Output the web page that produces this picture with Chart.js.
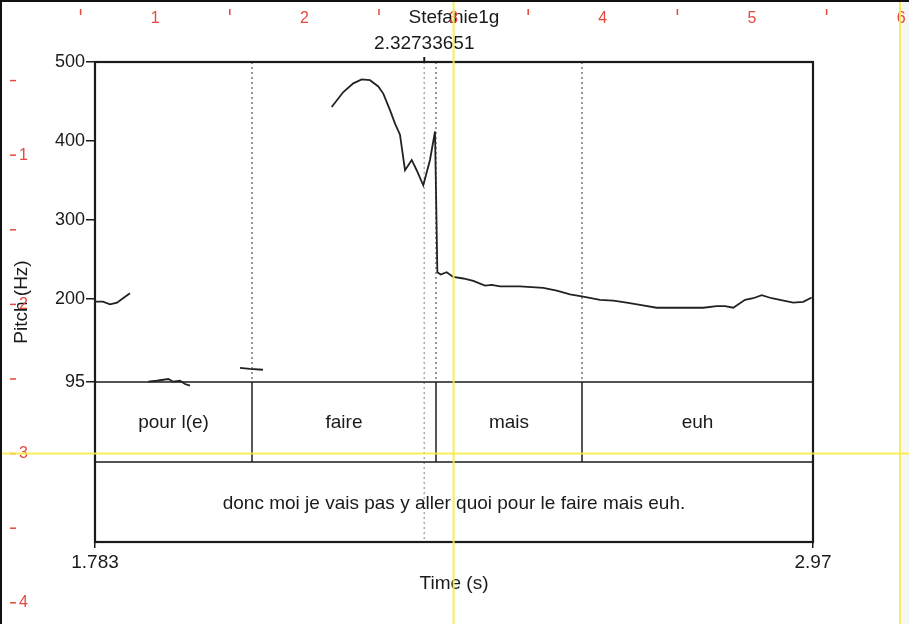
<!DOCTYPE html>
<html>
<head>
<meta charset="utf-8">
<script src="https://cdn.jsdelivr.net/npm/chart.js@4.4.1/dist/chart.umd.min.js"></script>
<style>
  body { margin: 0; background: #fff; }
  canvas { display: block; }
</style>
</head>
<body>
<canvas id="pitchChart" width="909" height="624"></canvas>
<script>
// pitch track (s, Hz); null = unvoiced gap
const times = [
  1.783, 1.7962, 1.8078, 1.8194, 1.8293, 1.8409, 1.855,
  1.8711, 1.8850, 1.9042, 1.9124, 1.9235, 1.9318, 1.9400, 1.98,
  2.0227, 2.0392, 2.0607, 2.12,
  2.1743, 2.1935, 2.2100, 2.2239, 2.2376, 2.2513, 2.2596, 2.2707, 2.2790, 2.2872,
  2.2955, 2.3066, 2.3148, 2.3257, 2.3368, 2.3451, 2.3490, 2.3545, 2.3644, 2.3753,
  2.3919, 2.4084, 2.4277, 2.4388, 2.4525, 2.4856, 2.5241, 2.5463, 2.5683, 2.5902,
  2.6178, 2.6398, 2.6620, 2.6840, 2.7116, 2.7501, 2.7886, 2.8108, 2.8245, 2.8382,
  2.8576, 2.8713, 2.8852, 2.9017, 2.9154, 2.9374, 2.9539, 2.9678
];
const pitch = [
  196.6, 196.6, 193.3, 195.4, 200.9, 207.3, null,
  95.4, 96.6, 98.8, 95.4, 96.6, 92.5, 90.3, null,
  113, 111.5, 110.5, null,
  443, 462, 473, 478, 477, 469, 460, 439, 422, 408,
  363, 376, 363, 344, 376, 412, 234, 231, 234, 228,
  226, 223, 217, 218, 216, 216, 214, 210.5, 206, 203,
  199, 198, 195.5, 192.5, 189, 189, 189, 191, 191, 189,
  199, 201, 205, 201, 199, 195.5, 196.5, 202
];
const yTicks = [95, 200, 300, 400, 500];
const xTicks = [1.783, 2.97];
const boundaries = [2.0426, 2.3467, 2.5881];
const words = ["pour l(e)", "faire", "mais", "euh"];
const sentence = "donc moi je vais pas y aller quoi pour le faire mais euh.";
const cursorTime = 2.32733651;
const chartTitle = "Stefanie1g";

const tMin = 1.783, tMax = 2.97;
const fMin = 95, fMax = 500;
// each text tier is as tall as 1/4 of the pitch range
const tierHz = (fMax - fMin) / 4;
const yMin = fMin - 2 * tierHz;

const font = "Liberation Sans, Arial, Helvetica, sans-serif";
const ink = "#1a1a1a";

const praatPlugin = {
  id: "praat",
  beforeDraw(chart) {
    const c = chart.ctx;
    c.save();
    c.fillStyle = "#fff";
    c.fillRect(0, 0, chart.width, chart.height);
    c.fillStyle = "#f6f6f6";
    c.fillRect(902, 0, chart.width - 902, chart.height);
    c.restore();
  },
  beforeDatasetsDraw(chart) {
    const c = chart.ctx;
    const xs = chart.scales.x, ys = chart.scales.y;
    const a = chart.chartArea;
    const yT1 = ys.getPixelForValue(fMin);
    const yT2 = ys.getPixelForValue(fMin - tierHz);
    c.save();
    // cursor (dotted, full height)
    const xc = xs.getPixelForValue(cursorTime);
    c.strokeStyle = "#aaa";
    c.lineWidth = 1.5;
    c.setLineDash([2, 3]);
    c.beginPath(); c.moveTo(xc, a.top); c.lineTo(xc, a.bottom); c.stroke();
    // boundary lines through the pitch area
    c.strokeStyle = "#777";
    boundaries.forEach(b => {
      const x = xs.getPixelForValue(b);
      c.beginPath(); c.moveTo(x, a.top); c.lineTo(x, yT1); c.stroke();
    });
    c.setLineDash([]);
    // boundaries in the word tier
    c.strokeStyle = "#555";
    c.lineWidth = 2;
    boundaries.forEach(b => {
      const x = xs.getPixelForValue(b);
      c.beginPath(); c.moveTo(x, yT1); c.lineTo(x, yT2); c.stroke();
    });
    // tier lines
    c.strokeStyle = ink;
    c.lineWidth = 1.3;
    [yT1, yT2].forEach(y => {
      c.beginPath(); c.moveTo(a.left, y); c.lineTo(a.right, y); c.stroke();
    });
    // labels
    c.fillStyle = ink;
    c.font = "19px " + font;
    c.textAlign = "center";
    c.textBaseline = "middle";
    const edges = [tMin, ...boundaries, tMax];
    words.forEach((w, i) => {
      const x = (xs.getPixelForValue(edges[i]) + xs.getPixelForValue(edges[i + 1])) / 2;
      c.fillText(w, x, (yT1 + yT2) / 2 + 1);
    });
    c.fillText(sentence, (a.left + a.right) / 2, (yT2 + a.bottom) / 2 + 2);
    // frame
    c.strokeStyle = ink;
    c.lineWidth = 2.2;
    c.strokeRect(a.left, a.top, a.right - a.left, a.bottom - a.top);
    // cursor tick + labels
    c.lineWidth = 2;
    c.beginPath(); c.moveTo(xc, a.top - 5); c.lineTo(xc, a.top); c.stroke();
    c.fillText(cursorTime.toFixed(8), xc, a.top - 18);
    c.fillText(chartTitle, (a.left + a.right) / 2, 18);
    c.restore();
  },
  afterDraw(chart) {
    const c = chart.ctx;
    c.save();
    // picture window rulers
    const inch = 149.2, org = 6;
    c.strokeStyle = "#e5483f";
    c.fillStyle = "#e5483f";
    c.lineWidth = 1.5;
    c.font = "16px " + font;
    c.textBaseline = "middle";
    c.textAlign = "center";
    for (let i = 1; i <= 6; i++) {
      c.fillText(String(i), org + i * inch, 19);
      const hx = org + (i - 0.5) * inch;
      c.beginPath(); c.moveTo(hx, 9); c.lineTo(hx, 15); c.stroke();
    }
    c.textAlign = "left";
    for (let i = 1; i <= 4; i++) {
      const y = org + i * inch;
      c.beginPath(); c.moveTo(10, y); c.lineTo(16, y); c.stroke();
      c.fillText(String(i), 19, y);
      const hy = org + (i - 0.5) * inch;
      c.beginPath(); c.moveTo(10, hy); c.lineTo(16, hy); c.stroke();
    }
    // yellow guides
    c.strokeStyle = "rgba(245, 236, 70, 0.9)";
    c.lineWidth = 2;
    [org + 3 * inch, 900].forEach(x => {
      c.beginPath(); c.moveTo(x, 2); c.lineTo(x, chart.height); c.stroke();
    });
    c.beginPath(); c.moveTo(2, org + 3 * inch); c.lineTo(chart.width, org + 3 * inch); c.stroke();
    // window border
    c.strokeStyle = "#111";
    c.lineWidth = 2;
    c.beginPath(); c.moveTo(0, 1); c.lineTo(chart.width, 1); c.stroke();
    c.beginPath(); c.moveTo(1, 0); c.lineTo(1, chart.height); c.stroke();
    c.restore();
  }
};

const ctx = document.getElementById("pitchChart").getContext("2d");
const chart = new Chart(ctx, {
  type: "line",
  data: {
    datasets: [{
      data: times.map((t, i) => ({ x: t, y: pitch[i] })),
      borderColor: "#222",
      borderWidth: 1.8,
      pointRadius: 0,
      tension: 0,
      spanGaps: false
    }]
  },
  options: {
    responsive: false,
    animation: false,
    layout: { padding: { top: 62, right: 96, left: 0, bottom: 0 } },
    plugins: { legend: { display: false }, tooltip: { enabled: false } },
    scales: {
      x: {
        type: "linear",
        min: tMin,
        max: tMax,
        afterBuildTicks: s => { s.ticks = xTicks.map(v => ({ value: v })); },
        afterFit: s => { s.height = 82; },
        grid: { drawOnChartArea: false, tickLength: 6, color: ink, lineWidth: 1.5 },
        border: { display: false },
        ticks: {
          autoSkip: false, maxRotation: 0, padding: 3,
          color: ink, font: { family: font, size: 19 },
          callback: v => String(v)
        },
        title: {
          display: true, text: "Time (s)", color: ink,
          font: { family: font, size: 19 }, padding: { top: 0, bottom: 29 }
        }
      },
      y: {
        type: "linear",
        min: yMin,
        max: fMax,
        afterBuildTicks: s => { s.ticks = yTicks.map(v => ({ value: v })); },
        afterFit: s => { s.width = 95; },
        grid: { drawOnChartArea: false, tickLength: 9, color: ink, lineWidth: 1.5 },
        border: { display: false },
        ticks: {
          padding: 1, color: ink, font: { family: font, size: 18 },
          callback: v => String(v)
        },
        title: {
          display: true, text: "Pitch (Hz)", color: ink,
          font: { family: font, size: 19 }, padding: { top: 10, bottom: 0 }
        }
      }
    }
  },
  plugins: [praatPlugin]
});
</script>
</body>
</html>
